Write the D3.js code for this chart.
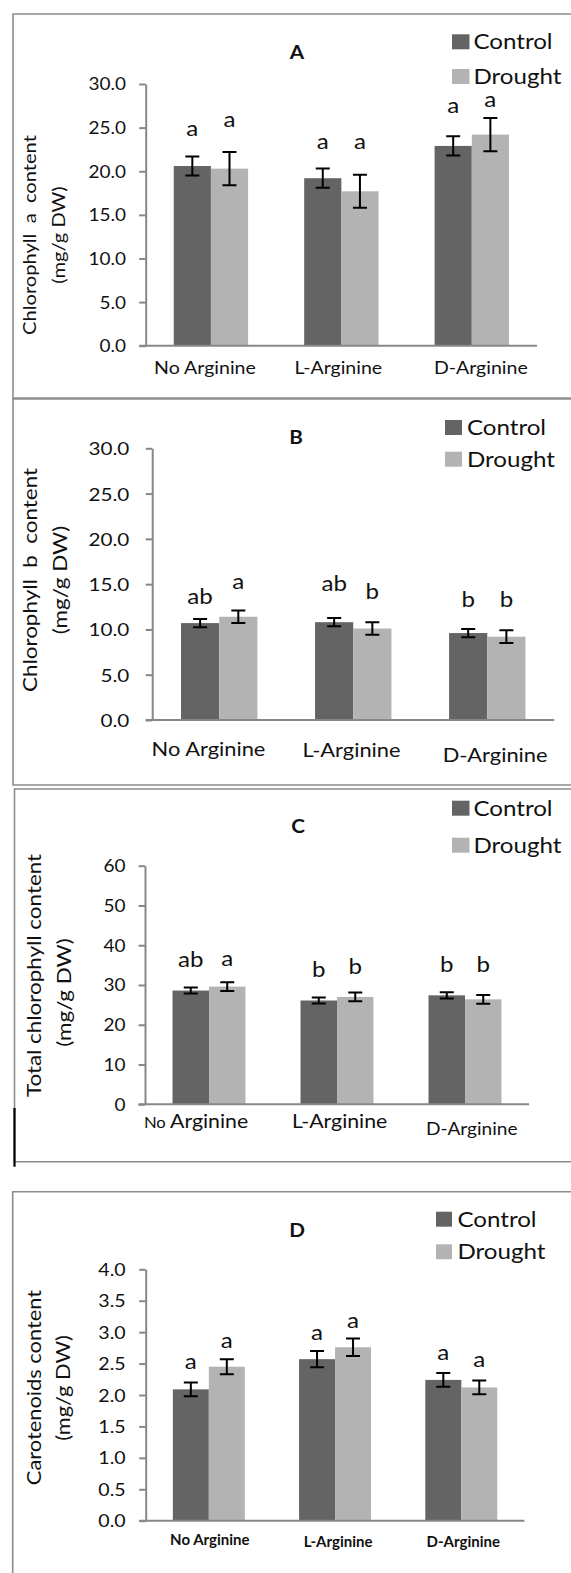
<!DOCTYPE html>
<html>
<head>
<meta charset="utf-8">
<script src="https://cdn.jsdelivr.net/npm/d3@7"></script>
<style>
    body { margin: 0; background: #fff; }
    text { font-family: Lato, "Open Sans", sans-serif; fill: #111; white-space: pre; }
</style>
</head>
<body>
<div class="canvas"></div>
<script>
const categories = ['No Arginine', 'L-Arginine', 'D-Arginine']
const seriesNames = ['Control', 'Drought']

// A - chlorophyll a
const chlA_control = [20.6, 19.2, 22.9]
const chlA_drought = [20.3, 17.7, 24.2]
const chlA_controlErr = [1.1, 1.1, 1.1]
const chlA_droughtErr = [1.9, 1.9, 1.9]
const chlA_controlLetters = ['a', 'a', 'a']
const chlA_droughtLetters = ['a', 'a', 'a']
const chlA_controlLetterAt = [24.0, 22.5, 26.7]
const chlA_droughtLetterAt = [25.1, 22.5, 27.4]
const chlA_ticks = [0, 5, 10, 15, 20, 25, 30]

// B - chlorophyll b
const chlB_control = [10.7, 10.8, 9.6]
const chlB_drought = [11.4, 10.1, 9.2]
const chlB_controlErr = [0.45, 0.45, 0.45]
const chlB_droughtErr = [0.7, 0.7, 0.7]
const chlB_controlLetters = ['ab', 'ab', 'b']
const chlB_droughtLetters = ['a', 'b', 'b']
const chlB_controlLetterAt = [12.8, 14.2, 12.5]
const chlB_droughtLetterAt = [14.5, 13.4, 12.5]
const chlB_ticks = [0, 5, 10, 15, 20, 25, 30]

// C - total chlorophyll
const total_control = [28.6, 26.1, 27.4]
const total_drought = [29.6, 27.0, 26.4]
const total_controlErr = [0.75, 0.75, 0.8]
const total_droughtErr = [1.1, 1.1, 1.1]
const total_controlLetters = ['ab', 'b', 'b']
const total_droughtLetters = ['a', 'b', 'b']
const total_controlLetterAt = [34.6, 32.1, 33.3]
const total_droughtLetterAt = [34.7, 32.7, 33.2]
const total_ticks = [0, 10, 20, 30, 40, 50, 60]

// D - carotenoids
const car_control = [2.09, 2.57, 2.24]
const car_drought = [2.45, 2.76, 2.12]
const car_controlErr = [0.11, 0.13, 0.11]
const car_droughtErr = [0.12, 0.14, 0.11]
const car_controlLetters = ['a', 'a', 'a']
const car_droughtLetters = ['a', 'a', 'a']
const car_controlLetterAt = [2.42, 2.88, 2.56]
const car_droughtLetterAt = [2.75, 3.07, 2.44]
const car_ticks = [0, 0.5, 1, 1.5, 2, 2.5, 3, 3.5, 4]

const colors = d3.scaleOrdinal()
    .domain(seriesNames)
    .range(['#646464', '#b3b3b3'])

const axisColor = '#878787'
const stretch = 1.15

const panels = [
    {
        title: 'A', yTitle: ['Chlorophyll  a  content', '(mg/g DW)'],
        values: [chlA_control, chlA_drought], errs: [chlA_controlErr, chlA_droughtErr],
        letters: [chlA_controlLetters, chlA_droughtLetters], letterAt: [chlA_controlLetterAt, chlA_droughtLetterAt],
        ticks: chlA_ticks, fmt: d3.format('.1f'),
        box: { x: 13, y: 14, bottom: 398 },
        plot: { l: 145.7, r: 537, t: 84, b: 345.7 },
        tickSize: 16.5, tickRight: 126,
        titlePos: [297, 59],
        legend: { sq: 452, sw: 17.5, tx: 473.4, ys: [49.3, 84] },
        yTitlePos: { x: [36, 65], y: [235, 235], size: 17.5 },
        xLab: { size: 17, y: [374, 374, 374], shift: [-6, -3, 9] }
    },
    {
        title: 'B', yTitle: ['Chlorophyll  b  content', '(mg/g DW)'],
        values: [chlB_control, chlB_drought], errs: [chlB_controlErr, chlB_droughtErr],
        letters: [chlB_controlLetters, chlB_droughtLetters], letterAt: [chlB_controlLetterAt, chlB_droughtLetterAt],
        ticks: chlB_ticks, fmt: d3.format('.1f'),
        box: { x: 13, y: 399, bottom: 785 },
        plot: { l: 152.2, r: 554.3, t: 448.3, b: 720 },
        tickSize: 18, tickRight: 129.3,
        titlePos: [296, 444.3],
        legend: { sq: 445, sw: 17, tx: 466.9, ys: [435, 466.7] },
        yTitlePos: { x: [37, 67], y: [580, 580], size: 19.5 },
        xLab: { size: 19, y: [755.7, 757, 761.7], shift: [-10.7, -1.7, 7.8] }
    },
    {
        title: 'C', yTitle: ['Total chlorophyll content', '(mg/g DW)'],
        values: [total_control, total_drought], errs: [total_controlErr, total_droughtErr],
        letters: [total_controlLetters, total_droughtLetters], letterAt: [total_controlLetterAt, total_droughtLetterAt],
        ticks: total_ticks, fmt: d3.format('d'),
        box: { x: 14.5, y: 789, bottom: 1161.7 },
        plot: { l: 145, r: 529, t: 865.7, b: 1104.3 },
        tickSize: 16.5, tickRight: 125.6,
        titlePos: [298, 833.3],
        legend: { sq: 452, sw: 17.5, tx: 473.4, ys: [815.7, 852.7] },
        yTitlePos: { x: [41, 71], y: [975.5, 992.5], size: 19.5 },
        xLab: { size: 18.5, y: [1128.3, 1128.3, 1135], shift: [-13, 2.6, 6.7], sizes: [18.5, 18.5, 16.6], smallNo: 14.5 }
    },
    {
        title: 'D', yTitle: ['Carotenoids content', '(mg/g DW)'],
        values: [car_control, car_drought], errs: [car_controlErr, car_droughtErr],
        letters: [car_controlLetters, car_droughtLetters], letterAt: [car_controlLetterAt, car_droughtLetterAt],
        ticks: car_ticks, fmt: d3.format('.1f'),
        box: { x: 12.7, y: 1191.7, bottom: 1600 },
        plot: { l: 145.7, r: 524.4, t: 1269.3, b: 1520.7 },
        tickSize: 17, tickRight: 125.6,
        titlePos: [297, 1236.7],
        legend: { sq: 436, sw: 16, tx: 457.4, ys: [1226.7, 1259.3] },
        yTitlePos: { x: [41, 70], y: [1387.5, 1388], size: 19 },
        xLab: { size: 15, bold: true, y: [1545, 1547, 1547], shift: [1, 3, 2] }
    }
]

const svg = d3.select('.canvas')
    .append('svg')
    .attr('width', 571)
    .attr('height', 1573)

// text stretched along its own direction, like the source figure
const label = (g, x, y, str, opts = {}) => g.append('text')
    .attr('transform', `translate(${x},${y}) rotate(${opts.rotate || 0}) scale(${opts.sx || stretch},1)`)
    .attr('text-anchor', opts.anchor || 'middle')
    .attr('font-size', opts.size || 16)
    .attr('font-weight', opts.weight || 'normal')
    .text(str)

const drawPanel = (p) => {
    const g = svg.append('g')

    // frame
    g.append('path')
        .attr('d', `M580,${p.box.y}H${p.box.x}V${p.box.bottom}H580`)
        .attr('fill', 'none')
        .attr('stroke', '#8c8c8c')
        .attr('stroke-width', 1.6)

    const y = d3.scaleLinear()
        .domain(d3.extent(p.ticks))
        .range([p.plot.b, p.plot.t])

    const x0 = d3.scaleBand()
        .domain(categories)
        .range([p.plot.l, p.plot.r])
        .paddingInner(0.43)
        .paddingOuter(0.215)

    const x1 = d3.scaleBand()
        .domain(seriesNames)
        .range([0, x0.bandwidth()])

    const rows = categories.flatMap((c, i) => seriesNames.map((s, j) => ({
        cat: c, series: s, value: p.values[j][i], err: p.errs[j][i],
        letter: p.letters[j][i], letterAt: p.letterAt[j][i]
    })))

    // bars
    g.selectAll('rect.bar')
        .data(rows)
        .enter()
        .append('rect')
            .attr('class', 'bar')
            .attr('x', d => x0(d.cat) + x1(d.series))
            .attr('width', x1.bandwidth())
            .attr('y', d => y(d.value))
            .attr('height', d => y(0) - y(d.value))
            .attr('fill', d => colors(d.series))

    // error bars
    const cx = d => x0(d.cat) + x1(d.series) + x1.bandwidth() / 2
    const cap = 7
    g.selectAll('path.err')
        .data(rows)
        .enter()
        .append('path')
            .attr('class', 'err')
            .attr('d', d => {
                const hi = y(d.value + d.err), lo = y(d.value - d.err), c = cx(d)
                return `M${c - cap},${hi}H${c + cap}M${c},${hi}V${lo}M${c - cap},${lo}H${c + cap}`
            })
            .attr('fill', 'none')
            .attr('stroke', '#000')
            .attr('stroke-width', 2)

    // significance letters
    rows.forEach(d => label(g, cx(d), y(d.letterAt), d.letter, { size: 21 }))

    // y axis
    const yAxis = d3.axisLeft(y)
        .tickValues(p.ticks)
        .tickFormat(p.fmt)
        .tickSize(6.5)
        .tickSizeOuter(0)

    const ya = g.append('g')
        .attr('transform', `translate(${p.plot.l},0)`)
        .call(yAxis)
    ya.select('.domain').attr('stroke', axisColor).attr('stroke-width', 2)
    ya.selectAll('.tick line').attr('stroke', axisColor).attr('stroke-width', 2)
    ya.selectAll('.tick text')
        .attr('x', null)
        .attr('dy', '0.36em')
        .attr('transform', `translate(${p.tickRight - p.plot.l},0) scale(${stretch},1)`)
        .attr('font-size', p.tickSize)
        .attr('font-family', null)
        .attr('fill', '#111')

    // x axis line
    g.append('line')
        .attr('x1', p.plot.l - 6.5)
        .attr('x2', p.plot.r)
        .attr('y1', y(0))
        .attr('y2', y(0))
        .attr('stroke', axisColor)
        .attr('stroke-width', 2)

    // category labels
    categories.forEach((c, i) => {
        const xl = x0(c) + x0.bandwidth() / 2 + p.xLab.shift[i]
        const size = p.xLab.sizes ? p.xLab.sizes[i] : p.xLab.size
        if (p.xLab.smallNo && c.startsWith('No ')) {
            const t = label(g, xl, p.xLab.y[i], '', { size })
            t.append('tspan').attr('font-size', p.xLab.smallNo).text('No ')
            t.append('tspan').text(c.slice(3))
        } else {
            label(g, xl, p.xLab.y[i], c, { size, weight: p.xLab.bold ? 'bold' : 'normal', sx: p.xLab.bold ? 1 : stretch })
        }
    })

    // title
    label(g, p.titlePos[0], p.titlePos[1], p.title, { size: 18, weight: 'bold' })

    // y axis title
    p.yTitle.forEach((t, i) => label(g, p.yTitlePos.x[i], p.yTitlePos.y[i], t, { size: p.yTitlePos.size, rotate: -90 }))

    // legend
    seriesNames.forEach((s, i) => {
        const base = p.legend.ys[i]
        g.append('rect')
            .attr('x', p.legend.sq)
            .attr('y', base - 15)
            .attr('width', p.legend.sw)
            .attr('height', 15)
            .attr('fill', colors(s))
        label(g, p.legend.tx, base, s, { size: 21, anchor: 'start' })
    })
}

panels.forEach(drawPanel)

// dark stroke on the lower left of panel C
svg.append('line')
    .attr('x1', 14.5).attr('x2', 14.5)
    .attr('y1', 1108).attr('y2', 1166.7)
    .attr('stroke', '#000')
    .attr('stroke-width', 2.2)
</script>
</body>
</html>
